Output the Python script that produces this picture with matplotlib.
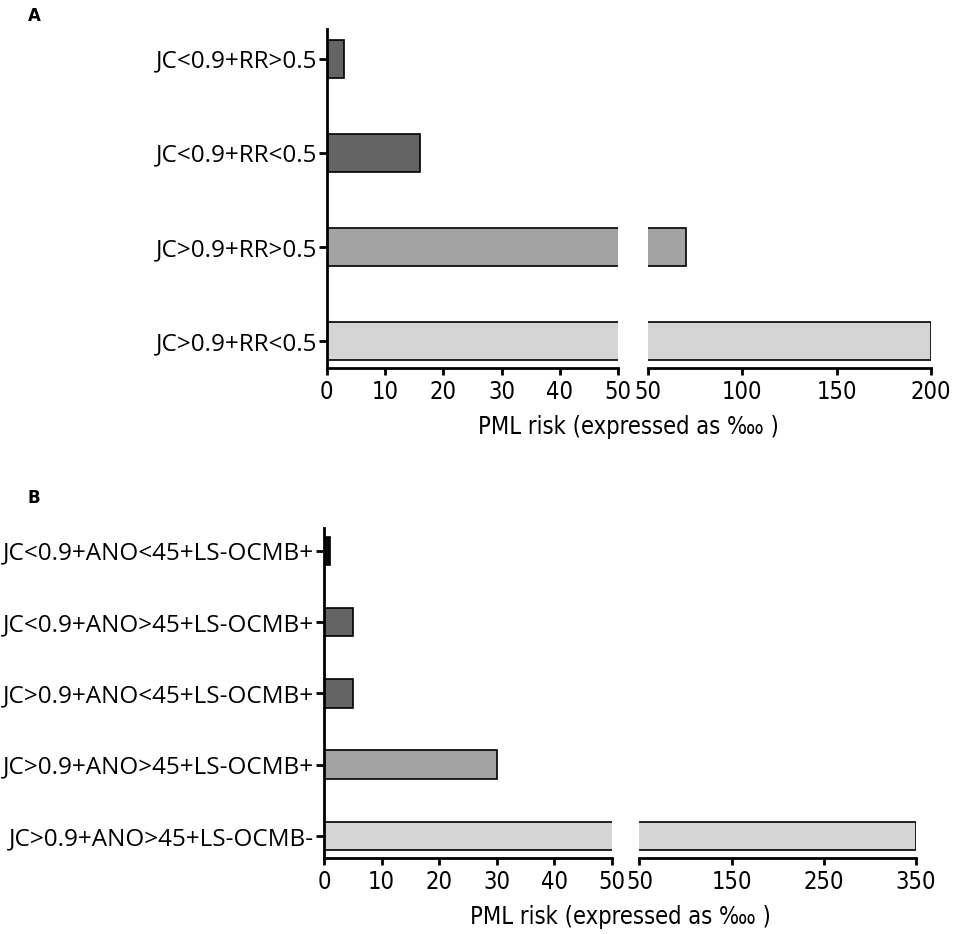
import matplotlib
matplotlib.use('Agg')
from matplotlib import pyplot as plt
from matplotlib import font_manager

# Panel A data
labels_a = ['JC<0.9+RR>0.5', 'JC<0.9+RR<0.5', 'JC>0.9+RR>0.5', 'JC>0.9+RR<0.5']
risk_a = [3, 16, 70, 200]
colors_a = ['#646464', '#646464', '#a3a3a3', '#d5d5d5']
ticks_a_left = [0, 10, 20, 30, 40, 50]
ticks_a_right = [50, 100, 150, 200]

# Panel B data
labels_b = ['JC<0.9+ANO<45+LS-OCMB+', 'JC<0.9+ANO>45+LS-OCMB+', 'JC>0.9+ANO<45+LS-OCMB+',
            'JC>0.9+ANO>45+LS-OCMB+', 'JC>0.9+ANO>45+LS-OCMB-']
risk_b = [1, 5, 5, 30, 350]
colors_b = ['#0a0a0a', '#646464', '#646464', '#a3a3a3', '#d5d5d5']
ticks_b_left = [0, 10, 20, 30, 40, 50]
ticks_b_right = [50, 150, 250, 350]

xlabel = 'PML risk (expressed as \u2031 )'
label_font = ['Open Sans', 'DejaVu Sans']

# condensed face for the numbers, closest thing to a narrow sans
tick_fp = font_manager.FontProperties(family='DejaVu Sans', stretch='condensed', size=17)
xlabel_fp = font_manager.FontProperties(family='DejaVu Sans', stretch='condensed', size=17)


def draw_panel(fig, left_box, right_box, labels, values, colors, ticks_l, ticks_r, pad_top, pad_bottom):
    ax_l = fig.add_axes(left_box)
    ax_r = fig.add_axes(right_box)
    pos = list(range(len(labels)))
    for ax in (ax_l, ax_r):
        ax.barh(pos, values, height=0.4, color=colors, edgecolor='black', linewidth=1.2)
        ax.set_ylim(len(labels) - 1 + pad_bottom, -pad_top)
        ax.spines['top'].set_visible(False)
        ax.spines['right'].set_visible(False)
        ax.spines['bottom'].set_linewidth(2)
        ax.tick_params(axis='x', direction='out', length=5, width=2, pad=4)
    ax_l.set_xlim(0, 50)
    ax_l.set_xticks(ticks_l)
    ax_l.set_xticks([50], minor=True)
    ax_l.tick_params(axis='x', which='minor', direction='in', length=5, width=2)
    ax_l.spines['left'].set_linewidth(2)
    ax_l.set_yticks(pos)
    ax_l.set_yticklabels(labels, family=label_font, fontsize=17.5)
    ax_l.tick_params(axis='y', direction='out', length=6, width=2, pad=1)

    ax_r.set_xlim(ticks_r[0], ticks_r[-1])
    ax_r.set_xticks(ticks_r)
    ax_r.set_xticks([ticks_r[0], ticks_r[-1]], minor=True)
    ax_r.tick_params(axis='x', which='minor', direction='in', length=5, width=2)
    ax_r.spines['left'].set_visible(False)
    ax_r.set_yticks([])

    for ax in (ax_l, ax_r):
        for t in ax.get_xticklabels():
            t.set_fontproperties(tick_fp)

    # axis title sits under both halves of the broken axis
    x_mid = (left_box[0] + right_box[0] + right_box[2]) / 2
    fig.text(x_mid, left_box[1] - 0.063, xlabel, ha='center', va='center',
             fontproperties=xlabel_fp)
    return ax_l, ax_r


fig = plt.figure(figsize=(9.57, 9.34), dpi=100)

draw_panel(fig, [0.3414, 0.606, 0.3047, 0.363], [0.6774, 0.606, 0.2951, 0.363],
           labels_a, risk_a, colors_a, ticks_a_left, ticks_a_right, 0.317, 0.287)
draw_panel(fig, [0.3386, 0.0817, 0.3004, 0.353], [0.6682, 0.0817, 0.2889, 0.353],
           labels_b, risk_b, colors_b, ticks_b_left, ticks_b_right, 0.32, 0.305)

fig.text(0.029, 0.983, 'A', fontsize=12, fontweight='bold', ha='left', va='center')
fig.text(0.029, 0.467, 'B', fontsize=12, fontweight='bold', ha='left', va='center')

fig.savefig('out.png', dpi=100)
